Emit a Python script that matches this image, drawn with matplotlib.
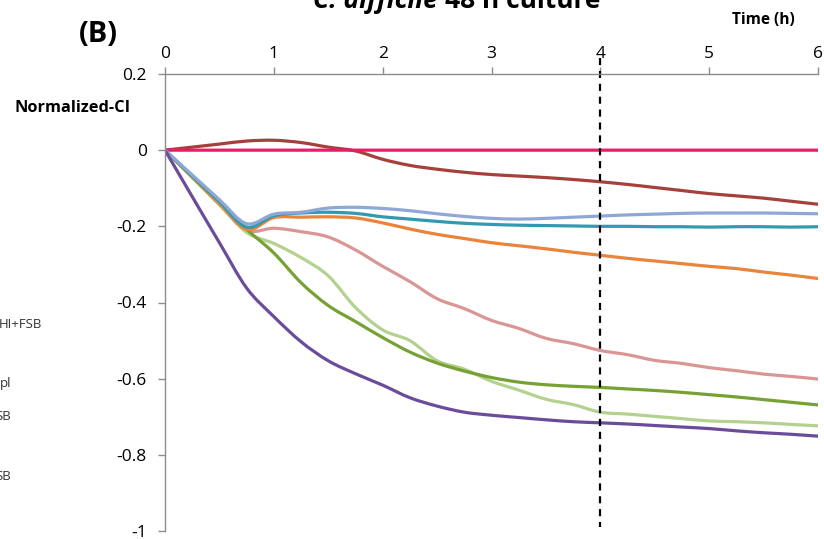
import matplotlib
matplotlib.use("Agg")
import matplotlib.pyplot as plt
from matplotlib.path import Path
from matplotlib.patches import PathPatch

plt.rcParams['font.family'] = ['Open Sans', 'DejaVu Sans']

# Time points (h)
time_h = [0, 0.25, 0.5, 0.75, 1, 1.25, 1.5, 1.75, 2, 2.25, 2.5, 2.75, 3,
          3.25, 3.5, 3.75, 4, 4.25, 4.5, 4.75, 5, 5.25, 5.5, 5.75, 6]

# Normalized cell index per condition
ci_control = [0.0] * 25
ci_darkred = [0, 0.008, 0.016, 0.024, 0.026, 0.02, 0.008, -0.002, -0.024, -0.04,
              -0.05, -0.058, -0.064, -0.068, -0.072, -0.077, -0.083, -0.09, -0.098,
              -0.106, -0.114, -0.12, -0.126, -0.134, -0.142]
ci_blue = [0, -0.065, -0.13, -0.193, -0.168, -0.163, -0.152, -0.15, -0.153, -0.159,
           -0.167, -0.174, -0.179, -0.181, -0.179, -0.176, -0.173, -0.17, -0.168,
           -0.166, -0.165, -0.165, -0.165, -0.166, -0.167]
ci_teal = [0, -0.068, -0.135, -0.202, -0.172, -0.165, -0.163, -0.166, -0.175, -0.181,
           -0.187, -0.192, -0.195, -0.197, -0.198, -0.199, -0.2, -0.2, -0.201,
           -0.201, -0.202, -0.201, -0.201, -0.202, -0.201]
ci_orange = [0, -0.07, -0.14, -0.208, -0.177, -0.176, -0.175, -0.178, -0.191, -0.207,
             -0.221, -0.232, -0.243, -0.251, -0.259, -0.268, -0.276, -0.284, -0.291,
             -0.298, -0.305, -0.311, -0.32, -0.328, -0.337]
ci_salmon = [0, -0.07, -0.14, -0.21, -0.205, -0.214, -0.228, -0.262, -0.305, -0.345,
             -0.39, -0.416, -0.447, -0.468, -0.494, -0.508, -0.526, -0.537, -0.552,
             -0.56, -0.571, -0.579, -0.588, -0.594, -0.601]
ci_green = [0, -0.07, -0.14, -0.208, -0.27, -0.348, -0.408, -0.45, -0.492, -0.53,
            -0.559, -0.58, -0.597, -0.609, -0.616, -0.62, -0.623, -0.627, -0.631,
            -0.636, -0.642, -0.648, -0.655, -0.662, -0.669]
ci_lightgreen = [0, -0.072, -0.144, -0.216, -0.245, -0.282, -0.33, -0.413, -0.472, -0.5,
                 -0.553, -0.575, -0.607, -0.63, -0.654, -0.668, -0.688, -0.693, -0.699,
                 -0.705, -0.711, -0.713, -0.716, -0.72, -0.724]
ci_purple = [0, -0.122, -0.243, -0.362, -0.437, -0.503, -0.553, -0.587, -0.617, -0.65,
             -0.672, -0.688, -0.696, -0.702, -0.708, -0.713, -0.716, -0.719, -0.723,
             -0.727, -0.731, -0.737, -0.742, -0.746, -0.751]

x_ticks = [0, 1, 2, 3, 4, 5, 6]
y_ticks = [0.2, 0, -0.2, -0.4, -0.6, -0.8, -1]
y_tick_labels = ['0.2', '0', '-0.2', '-0.4', '-0.6', '-0.8', '-1']
legend_fragments = ['HI+FSB', 'pl', 'SB', 'SB']

series = [
    (ci_darkred, '#A6403D'),
    (ci_control, '#EA1C6A'),
    (ci_salmon, '#D99694'),
    (ci_lightgreen, '#B3D28F'),
    (ci_green, '#77A135'),
    (ci_orange, '#E9843A'),
    (ci_teal, '#3399B0'),
    (ci_blue, '#8EA8D6'),
    (ci_purple, '#6A4C9B'),
]


def smooth_path(xs, ys):
    """Smoothed polyline through the points (cubic Bezier, Catmull-Rom tangents)."""
    verts = [(xs[0], ys[0])]
    codes = [Path.MOVETO]
    n = len(xs)
    for i in range(n - 1):
        x0, y0 = (xs[i - 1], ys[i - 1]) if i > 0 else (xs[i], ys[i])
        x1, y1 = xs[i], ys[i]
        x2, y2 = xs[i + 1], ys[i + 1]
        x3, y3 = (xs[i + 2], ys[i + 2]) if i + 2 < n else (x2, y2)
        c1 = (x1 + (x2 - x0) / 6.0, y1 + (y2 - y0) / 6.0)
        c2 = (x2 - (x3 - x1) / 6.0, y2 - (y3 - y1) / 6.0)
        verts += [c1, c2, (x2, y2)]
        codes += [Path.CURVE4] * 3
    return Path(verts, codes)


fig = plt.figure(figsize=(8.24, 5.39), dpi=100)
ax = fig.add_axes([165 / 824, 1 - 531 / 539, (818 - 165) / 824, (531 - 74) / 539])

for vals, col in series:
    ax.add_patch(PathPatch(smooth_path(time_h, vals), facecolor='none',
                           edgecolor=col, lw=2.3, capstyle='round',
                           joinstyle='round'))

ax.set_xlim(0, 6)
ax.set_ylim(-1, 0.2)

ax.plot([4, 4], [0.242, -0.99], ls=(0, (3.2, 2.6)), color='black', lw=1.6,
        clip_on=False)

for s in ['bottom', 'right']:
    ax.spines[s].set_visible(False)
for s in ['top', 'left']:
    ax.spines[s].set_color('#8C8C8C')
    ax.spines[s].set_linewidth(1.0)

ax.xaxis.tick_top()
ax.set_xticks(x_ticks)
ax.set_xticklabels([str(t) for t in x_ticks])
ax.set_yticks(y_ticks)
ax.set_yticklabels(y_tick_labels)
ax.tick_params(axis='both', direction='out', length=5, color='#8C8C8C',
               labelsize=12.5, labelcolor='black', width=1.0)
ax.tick_params(axis='x', pad=4)
ax.tick_params(axis='y', pad=8)

fig.text(14 / 824, 1 - 108 / 539, 'Normalized-CI', fontsize=11.8,
         fontweight='bold', ha='left', va='center')
fig.text(795 / 824, 1 - 20 / 539, 'Time (h)', fontsize=11.2,
         fontweight='bold', ha='right', va='center')
fig.text(98 / 824, 1 - 35 / 539, '(B)', fontsize=21, fontweight='bold',
         ha='center', va='center')

# Title
fig.text(438 / 824, 1 - 8 / 539, 'C. difficile',
         fontsize=19, fontweight='bold', fontstyle='italic',
         ha='right', va='baseline')
fig.text(445 / 824, 1 - 8 / 539, '48 h culture', fontsize=19, fontweight='bold',
         ha='left', va='baseline')

# Legend entries running off the left edge
legend_y = [325, 384, 416, 476]
legend_x = [42, 11, 11, 11]
for txt, yy, xx in zip(legend_fragments, legend_y, legend_x):
    fig.text(xx / 824, 1 - yy / 539, txt, fontsize=9.5, ha='right', va='center',
             color='#333333')

fig.savefig('out.png', dpi=100)
